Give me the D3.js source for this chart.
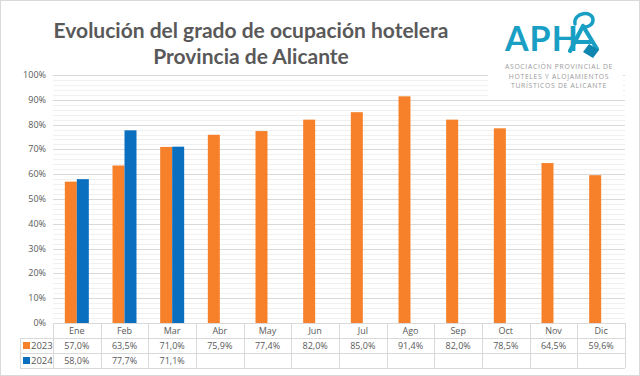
<!DOCTYPE html>
<html>
<head>
<meta charset="UTF-8">
<script src="https://d3js.org/d3.v7.min.js"></script>
<style>
  body { margin: 0; background: #fff; }
  svg { display: block; font-family: "Open Sans", "Noto Sans", sans-serif; }
</style>
</head>
<body>
<svg></svg>
<script>
const months = ["Ene", "Feb", "Mar", "Abr", "May", "Jun", "Jul", "Ago", "Sep", "Oct", "Nov", "Dic"];
const values2023 = [57.0, 63.5, 71.0, 75.9, 77.4, 82.0, 85.0, 91.4, 82.0, 78.5, 64.5, 59.6];
const values2024 = [58.0, 77.7, 71.1];
const seriesNames = ["2023", "2024"];
const yTicks = [0, 10, 20, 30, 40, 50, 60, 70, 80, 90, 100];

const width = 640, height = 376;
const colors = { "2023": "#F7812A", "2024": "#0B6FBF" };

const svg = d3.select("svg").attr("width", width).attr("height", height);

// outer frame
svg.append("rect").attr("x", 0.5).attr("y", 0.5).attr("width", width - 1).attr("height", height - 1)
  .attr("fill", "#fff").attr("stroke", "#d9d9d9");

const plotL = 53, plotR = 625, plotT = 75, plotB = 323;

const x = d3.scaleBand().domain(months).range([plotL, plotR]);
const y = d3.scaleLinear().domain([0, 100]).range([plotB, plotT]);

// minor grid every 2%
svg.append("g").selectAll("line")
  .data(d3.range(0, 101, 2).filter(v => v % 10 !== 0))
  .enter().append("line")
  .attr("x1", plotL).attr("x2", plotR)
  .attr("y1", d => Math.round(y(d)) + 0.5).attr("y2", d => Math.round(y(d)) + 0.5)
  .attr("stroke", "#f0f0f0");

// major grid
svg.append("g").selectAll("line")
  .data(yTicks)
  .enter().append("line")
  .attr("x1", plotL).attr("x2", plotR)
  .attr("y1", d => Math.round(y(d)) + 0.5).attr("y2", d => Math.round(y(d)) + 0.5)
  .attr("stroke", "#d9d9d9");

// y labels
svg.append("g").selectAll("text")
  .data(yTicks)
  .enter().append("text")
  .attr("x", 46).attr("y", d => y(d) + 3)
  .attr("text-anchor", "end")
  .attr("font-size", 9).attr("fill", "#595959")
  .text(d => d + "%");

// bars
const barW = 12;
const series = [
  { name: "2023", values: values2023, off: -barW },
  { name: "2024", values: values2024, off: 0 }
];
series.forEach(s => {
  svg.append("g").selectAll("rect")
    .data(s.values)
    .enter().append("rect")
    .attr("x", (d, i) => x(months[i]) + x.bandwidth() / 2 + s.off)
    .attr("y", d => y(d))
    .attr("width", barW)
    .attr("height", d => plotB - y(d))
    .attr("fill", colors[s.name]);
});

// data table
const rowH = 15;
const tbl = svg.append("g");
const lineColor = "#d9d9d9";
tbl.append("line").attr("x1", plotL).attr("x2", plotR).attr("y1", plotB + 0.5).attr("y2", plotB + 0.5).attr("stroke", lineColor);
[1, 2, 3].forEach(r => {
  tbl.append("line").attr("x1", 20).attr("x2", plotR)
    .attr("y1", plotB + r * rowH + 0.5).attr("y2", plotB + r * rowH + 0.5)
    .attr("stroke", lineColor);
});
months.concat(["end"]).forEach((m, i) => {
  const xv = Math.round(plotL + i * x.bandwidth()) + 0.5;
  tbl.append("line").attr("x1", xv).attr("x2", xv)
    .attr("y1", plotB).attr("y2", plotB + 3 * rowH)
    .attr("stroke", lineColor);
});
tbl.append("line").attr("x1", 20.5).attr("x2", 20.5)
  .attr("y1", plotB + rowH).attr("y2", plotB + 3 * rowH).attr("stroke", lineColor);

// header labels
tbl.selectAll("text.m")
  .data(months)
  .enter().append("text")
  .attr("x", d => x(d) + x.bandwidth() / 2)
  .attr("y", plotB + 11)
  .attr("text-anchor", "middle")
  .attr("font-size", 9).attr("fill", "#595959")
  .text(d => d);

const fmt = v => v.toFixed(1).replace(".", ",") + "%";
series.forEach((s, r) => {
  const ry = plotB + (r + 1) * rowH;
  tbl.append("rect").attr("x", 23).attr("y", ry + 4).attr("width", 7).attr("height", 7).attr("fill", colors[s.name]);
  tbl.append("text").attr("x", 31).attr("y", ry + 11)
    .attr("font-size", 9.5).attr("fill", "#595959").text(seriesNames[r]);
  tbl.selectAll(null)
    .data(s.values)
    .enter().append("text")
    .attr("x", (d, i) => x(months[i]) + x.bandwidth() / 2)
    .attr("y", ry + 11)
    .attr("text-anchor", "middle")
    .attr("font-size", 9).attr("fill", "#595959")
    .text(d => fmt(d));
});

// title
const title = svg.append("g").attr("font-weight", "bold").attr("fill", "#595959")
  .attr("text-anchor", "middle").attr("font-family", "Lato, 'Open Sans', sans-serif");
title.append("text").attr("x", 251).attr("y", 38).attr("font-size", 21).text("Evolución del grado de ocupación hotelera");
title.append("text").attr("x", 251).attr("y", 64).attr("font-size", 21).text("Provincia de Alicante");

// logo
const teal = "#1a9fc4";
const logo = svg.append("g");
logo.append("rect").attr("x", 488).attr("y", 5).attr("width", 135).attr("height", 95).attr("fill", "#fff");
logo.append("text").attr("x", 505).attr("y", 51)
  .attr("font-size", 34).attr("font-weight", "bold").attr("fill", teal)
  .attr("font-family", "Lato, 'Open Sans', sans-serif")
  .attr("letter-spacing", 1)
  .text("APH");
// tag-shaped final A
const tagA = logo.append("g").attr("transform", "translate(3,0)");
tagA.append("path")
  .attr("d", "M572,24 C570,12 590,10 590,20 C590,25 585,27 581,27")
  .attr("fill", "none").attr("stroke", teal).attr("stroke-width", 3.5).attr("stroke-linecap", "round");
tagA.append("path")
  .attr("d", "M580,26 L567,51 M580,26 L594,49 M572,42 L589,42")
  .attr("fill", "none").attr("stroke", teal).attr("stroke-width", 4.2).attr("stroke-linecap", "round");
tagA.append("path")
  .attr("d", "M586,44 L596,50 L590,58 L580,52 Z")
  .attr("fill", "#0f86b0");
const sub = ["ASOCIACIÓN PROVINCIAL DE", "HOTELES Y ALOJAMIENTOS", "TURÍSTICOS DE ALICANTE"];
logo.selectAll("text.s").data(sub).enter().append("text")
  .attr("x", 559).attr("y", (d, i) => 69 + i * 9.5)
  .attr("text-anchor", "middle")
  .attr("font-size", 6.8).attr("fill", "#9a9a9a").attr("letter-spacing", 0.7)
  .text(d => d);
</script>
</body>
</html>
